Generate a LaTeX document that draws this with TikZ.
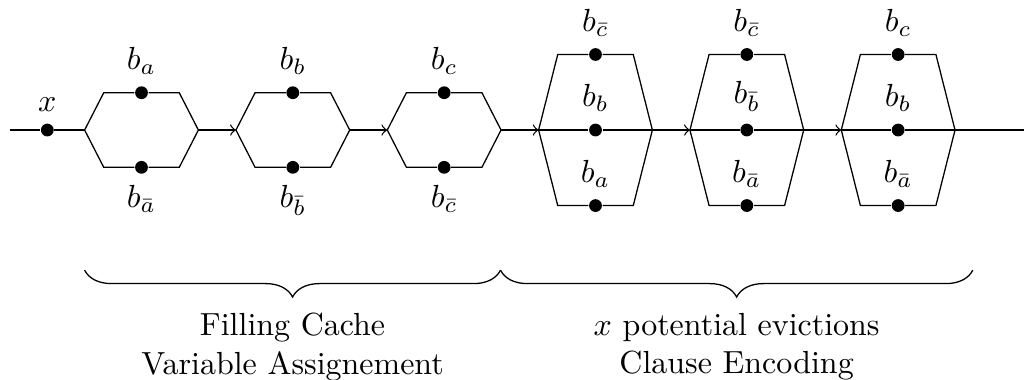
\documentclass[tikz,border=0pt]{standalone}
\usetikzlibrary{positioning, calc, decorations.pathreplacing}

\begin{document}
\begin{tikzpicture}[
    dot/.style={circle, fill, inner sep=0pt, minimum size=4pt},
    edge/.style={->},
    brace/.style={decorate, decoration={brace, mirror, amplitude=8.4pt}},
    caption/.style={align=center}
]
\useasboundingbox (0,-2.736) rectangle (11.253,1.429);

% ================= INPUT =================
\coordinate (start) at (0.11,0);
\node[dot, label=above:$x$] (x) at (0.52,0) {};
\coordinate (end) at (11.253,0);

% ================= VARIABLE ASSIGNMENT =================
\begin{scope}[shift={(0.93,0)}]
    \coordinate (l1) at (0,0);
    \coordinate (r1) at (1.25,0);
    \node[dot, label=above:$b_a$] (t1) at (0.625,0.41) {};
    \node[dot, label=below:$b_{\bar a}$] (b1) at (0.625,-0.41) {};
    \draw (l1) -- (0.21,0.41) -- (t1) -- (1.04,0.41) -- (r1) -- (1.04,-0.41) -- (b1) -- (0.21,-0.41) -- (l1);
\end{scope}

\begin{scope}[shift={(2.593,0)}]
    \coordinate (l2) at (0,0);
    \coordinate (r2) at (1.25,0);
    \node[dot, label=above:$b_b$] (t2) at (0.625,0.41) {};
    \node[dot, label=below:$b_{\bar b}$] (b2) at (0.625,-0.41) {};
    \draw (l2) -- (0.21,0.41) -- (t2) -- (1.04,0.41) -- (r2) -- (1.04,-0.41) -- (b2) -- (0.21,-0.41) -- (l2);
\end{scope}

\begin{scope}[shift={(4.256,0)}]
    \coordinate (l3) at (0,0);
    \coordinate (r3) at (1.25,0);
    \node[dot, label=above:$b_c$] (t3) at (0.625,0.41) {};
    \node[dot, label=below:$b_{\bar c}$] (b3) at (0.625,-0.41) {};
    \draw (l3) -- (0.21,0.41) -- (t3) -- (1.04,0.41) -- (r3) -- (1.04,-0.41) -- (b3) -- (0.21,-0.41) -- (l3);
\end{scope}

% ================= CLAUSE ENCODING =================
\begin{scope}[shift={(5.919,0)}]
    \coordinate (l4) at (0,0);
    \coordinate (r4) at (1.25,0);
    \node[dot, label=above:$b_{\bar c}$] (t4) at (0.625,0.83) {};
    \node[dot, label=above:$b_b$] (m4) at (0.625,0) {};
    \node[dot, label=above:$b_a$] (b4) at (0.625,-0.83) {};
    \draw (l4) -- (0.21,0.83) -- (t4) -- (1.04,0.83) -- (r4) -- (1.04,-0.83) -- (b4) -- (0.21,-0.83) -- (l4);
    \draw (l4) -- (m4) -- (r4);
\end{scope}

\begin{scope}[shift={(7.582,0)}]
    \coordinate (l5) at (0,0);
    \coordinate (r5) at (1.25,0);
    \node[dot, label=above:$b_{\bar c}$] (t5) at (0.625,0.83) {};
    \node[dot, label=above:$b_{\bar b}$] (m5) at (0.625,0) {};
    \node[dot, label=above:$b_{\bar a}$] (b5) at (0.625,-0.83) {};
    \draw (l5) -- (0.21,0.83) -- (t5) -- (1.04,0.83) -- (r5) -- (1.04,-0.83) -- (b5) -- (0.21,-0.83) -- (l5);
    \draw (l5) -- (m5) -- (r5);
\end{scope}

\begin{scope}[shift={(9.245,0)}]
    \coordinate (l6) at (0,0);
    \coordinate (r6) at (1.25,0);
    \node[dot, label=above:$b_c$] (t6) at (0.625,0.83) {};
    \node[dot, label=above:$b_b$] (m6) at (0.625,0) {};
    \node[dot, label=above:$b_{\bar a}$] (b6) at (0.625,-0.83) {};
    \draw (l6) -- (0.21,0.83) -- (t6) -- (1.04,0.83) -- (r6) -- (1.04,-0.83) -- (b6) -- (0.21,-0.83) -- (l6);
    \draw (l6) -- (m6) -- (r6);
\end{scope}

% ================= CONNECTIONS =================
\draw (start) -- (x) -- (l1);
\draw[edge] (r1) -- (l2);
\draw[edge] (r2) -- (l3);
\draw[edge] (r3) -- (l4);
\draw[edge] (r4) -- (l5);
\draw[edge] (r5) -- (l6);
\draw (r6) -- (end);

% ================= BRACES =================
\coordinate (bl1) at (0.93,-1.54);
\coordinate (br1) at (5.50,-1.54);
\coordinate (br2) at (10.69,-1.54);
\draw[brace] (bl1) -- (br1);
\draw[brace] (br1) -- (br2);

\coordinate (tip1) at ($(bl1)!0.5!(br1)+(0,-0.3)$);
\coordinate (tip2) at ($(br1)!0.5!(br2)+(0,-0.3)$);
\node[caption, below=0.05cm of tip1] (fill) {Filling Cache\\Variable Assignement};
\node[caption, below=0.05cm of tip2] (clause) {$x$ potential evictions\\Clause Encoding};

\end{tikzpicture}
\end{document}
